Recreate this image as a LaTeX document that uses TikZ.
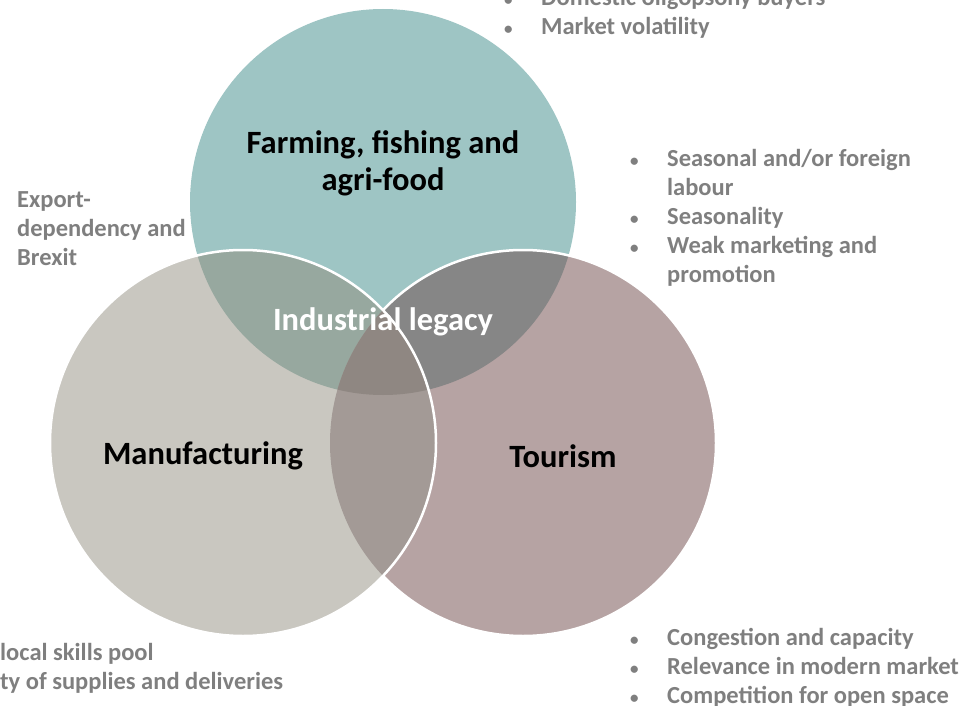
\documentclass[tikz,border=0pt]{standalone}
\usepackage{fontspec}
\setmainfont{Carlito}
\usetikzlibrary{positioning}
\definecolor{farmteal}{HTML}{9EC5C4}
\definecolor{manugray}{HTML}{C9C7C0}
\definecolor{tourmauve}{HTML}{B6A3A3}
\definecolor{farmmanu}{HTML}{97A89F}
\definecolor{farmtour}{HTML}{868686}
\definecolor{manutour}{HTML}{A39A96}
\definecolor{allthree}{HTML}{8F8782}
\definecolor{notegray}{HTML}{7F7F7F}
\newcommand{\bul}{\makebox[38pt][l]{\hspace*{1pt}\fontsize{17}{17}\selectfont\textbullet}}
\newcommand{\ind}{\hspace*{38pt}}

\begin{document}
\begin{tikzpicture}[x=1pt,y=-1pt,
  circlelbl/.style={font=\bfseries\fontsize{32.5}{37}\selectfont, text=black, align=center, inner sep=0pt},
  note/.style={font=\bfseries\fontsize{24.5}{29}\selectfont, text=notegray, align=left, inner sep=0pt, anchor=base west},
  rim/.style={white, line width=2.5}]
  \clip (0,0) rectangle (974,706);
  \coordinate (farm) at (383,202);
  \coordinate (manu) at (243,443);
  \coordinate (tour) at (523,443);
  \def\rad{193}
  % circles and their overlaps
  \fill[farmteal] (farm) circle (\rad);
  \fill[tourmauve] (tour) circle (\rad);
  \begin{scope}
    \clip (farm) circle (\rad);
    \fill[farmtour] (tour) circle (\rad);
  \end{scope}
  \draw[rim] (tour) circle (\rad);
  \fill[manugray] (manu) circle (\rad);
  \begin{scope}
    \clip (manu) circle (\rad);
    \fill[farmmanu] (farm) circle (\rad);
    \fill[manutour] (tour) circle (\rad);
    \clip (farm) circle (\rad);
    \fill[allthree] (tour) circle (\rad);
  \end{scope}
  \draw[rim] (manu) circle (\rad);
  % sector labels
  \node[circlelbl] (farmlbl) at (383,163) {Farming, fishing and\\agri-food};
  \node[circlelbl, text=white] (legacy) at (383,322) {Industrial legacy};
  \node[circlelbl] (manulbl) at (203,456) {Manufacturing};
  \node[circlelbl] (tourlbl) at (563,456) {Tourism};
  % challenges
  \node[note] (farmnote) at (503,35) {\bul Domestic oligopsony buyers\\\bul Market volatility};
  \node[note] (tournote) at (629,282) {\bul Seasonal and/or foreign\\\ind labour\\\bul Seasonality\\\bul Weak marketing and\\\ind promotion};
  \node[note] (exportnote) at (17,265) {Export-\\dependency and\\Brexit};
  \node[note] (capnote) at (629,703) {\bul Congestion and capacity\\\bul Relevance in modern market\\\bul Competition for open space};
  \node[note] (skillnote) at (0,689) {local skills pool\\ty of supplies and deliveries};
\end{tikzpicture}
\end{document}
